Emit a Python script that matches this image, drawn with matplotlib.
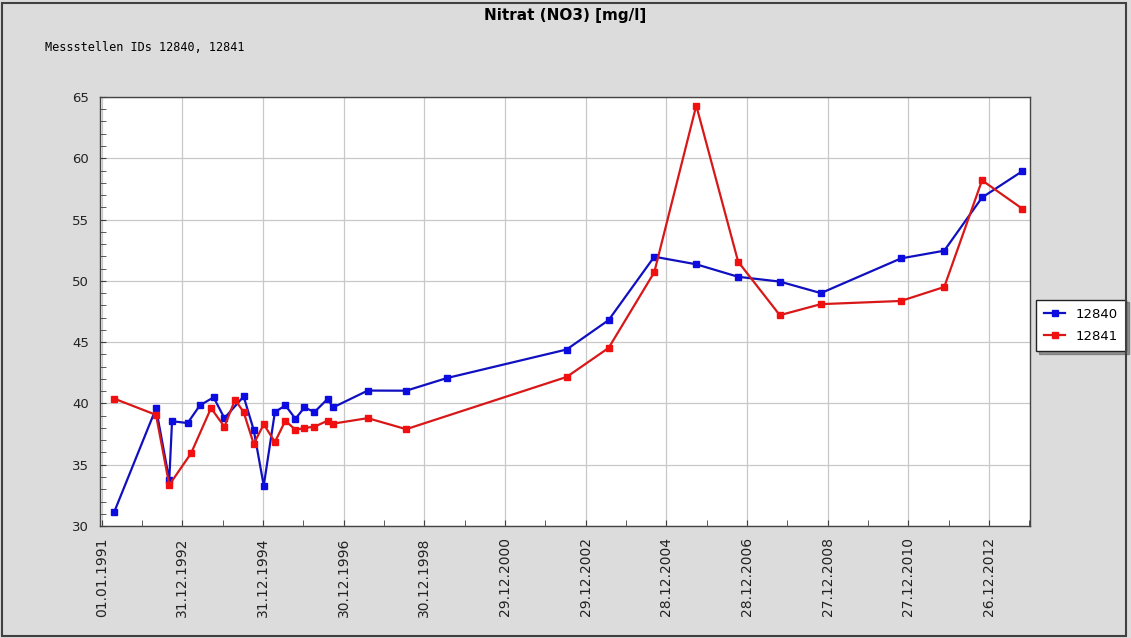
import matplotlib
matplotlib.use("Agg")
import matplotlib.pyplot as plt
import matplotlib.dates as mdates
import matplotlib.patches as mpatches
import numpy as np
import pandas as pd

# Messstelle 12840
dates_12840 = ["1991-04-24", "1992-05-06", "1992-09-03", "1992-09-28", "1993-02-16",
               "1993-06-07", "1993-10-09", "1994-01-15", "1994-07-08", "1994-10-07",
               "1995-01-06", "1995-04-17", "1995-07-21", "1995-10-20", "1996-01-09",
               "1996-04-09", "1996-08-07", "1996-09-23", "1997-08-04", "1998-07-18",
               "1999-07-21", "2002-07-09", "2003-07-24", "2004-09-09", "2005-09-24",
               "2006-10-08", "2007-10-20", "2008-10-26", "2010-10-20", "2011-11-16",
               "2012-10-23", "2013-10-20"]
values_12840 = [31.15, 39.6, 33.75, 38.55, 38.4,
                39.84, 40.5, 38.8, 40.57, 37.84,
                33.3, 39.3, 39.84, 38.75, 39.67,
                39.3, 40.38, 39.67, 41.05, 41.04,
                42.07, 44.4, 46.8, 51.97, 51.35,
                50.33, 49.94, 49.0, 51.83, 52.46,
                56.8, 58.93]

# Messstelle 12841
dates_12841 = ["1991-04-24", "1992-05-06", "1992-09-03", "1993-03-19", "1993-09-16",
               "1994-01-15", "1994-04-21", "1994-07-08", "1994-10-07", "1995-01-06",
               "1995-04-17", "1995-07-21", "1995-10-20", "1996-01-09", "1996-04-09",
               "1996-08-07", "1996-09-23", "1997-08-04", "1998-07-18", "2002-07-09",
               "2003-07-24", "2004-09-09", "2005-09-24", "2006-10-08", "2007-10-20",
               "2008-10-26", "2010-10-20", "2011-11-16", "2012-10-23", "2013-10-20"]
values_12841 = [40.39, 39.07, 33.35, 35.93, 39.62,
                38.1, 40.3, 39.3, 36.7, 38.3,
                36.85, 38.6, 37.84, 38.0, 38.1,
                38.6, 38.35, 38.8, 37.9, 42.16,
                44.53, 50.7, 64.3, 51.56, 47.2,
                48.1, 48.36, 49.5, 58.2, 55.9]

title = "Nitrat (NO3) [mg/l]"
subtitle = "Messstellen IDs 12840, 12841"

fig = plt.figure(figsize=(11.31, 6.38), dpi=100)
fig.patch.set_facecolor("#dcdcdc")
fig.patches.append(mpatches.Rectangle((0.002, 0.003), 0.994, 0.993, transform=fig.transFigure,
                                      fill=False, edgecolor="#404040", linewidth=1.5))

ax = fig.add_axes([0.0884, 0.1755, 0.8223, 0.6725])
ax.set_facecolor("white")

ax.plot(pd.to_datetime(dates_12840), values_12840, color="#1010c0", lw=1.6,
        marker="s", markersize=5, markerfacecolor="#0c0ce0", markeredgecolor="#0c0ce0",
        label="12840")
ax.plot(pd.to_datetime(dates_12841), values_12841, color="#d81818", lw=1.6,
        marker="s", markersize=5, markerfacecolor="#f01010", markeredgecolor="#f01010",
        label="12841")

# Achsen
start = pd.Timestamp("1991-01-01")
ax.set_xlim(pd.Timestamp("1990-12-16"), pd.Timestamp("2013-12-31"))
ax.set_ylim(30, 65)

major = [start + pd.Timedelta(days=730 * k) for k in range(12)]
minor = [start + pd.Timedelta(days=365 * k) for k in range(24)]
ax.xaxis.set_major_locator(matplotlib.ticker.FixedLocator(mdates.date2num(major)))
ax.xaxis.set_minor_locator(matplotlib.ticker.FixedLocator(mdates.date2num(minor)))
ax.xaxis.set_major_formatter(mdates.DateFormatter("%d.%m.%Y"))
ax.yaxis.set_major_locator(matplotlib.ticker.MultipleLocator(5))
ax.yaxis.set_minor_locator(matplotlib.ticker.MultipleLocator(1))

ax.tick_params(axis="x", which="major", rotation=90, labelsize=10, pad=8,
               direction="in", length=4, color="#404040", labelcolor="#222222")
ax.tick_params(axis="y", which="major", labelsize=9.5, pad=8,
               direction="in", length=4, color="#404040", labelcolor="#222222")
ax.tick_params(which="minor", direction="in", length=4, color="#404040")

ax.grid(True, which="major", color="#c8c8c8", lw=0.9)
ax.set_axisbelow(True)
for s in ax.spines.values():
    s.set_color("#444444")
    s.set_linewidth(1.0)

fig.text(0.5, 0.975, title, ha="center", va="center", fontsize=11, fontweight="bold")
fig.text(0.04, 0.925, subtitle, ha="left", va="center", fontsize=8.5,
         family="DejaVu Sans Mono")

leg = ax.legend(loc="center left", bbox_to_anchor=(0.9995, 0.468), fontsize=9.5,
                frameon=True, fancybox=False, shadow=True, borderpad=0.6,
                handlelength=1.6, handletextpad=0.8, labelspacing=0.7)
leg.get_frame().set_edgecolor("#222222")
leg.get_frame().set_facecolor("white")

fig.savefig("out.png", dpi=100, facecolor=fig.get_facecolor())
